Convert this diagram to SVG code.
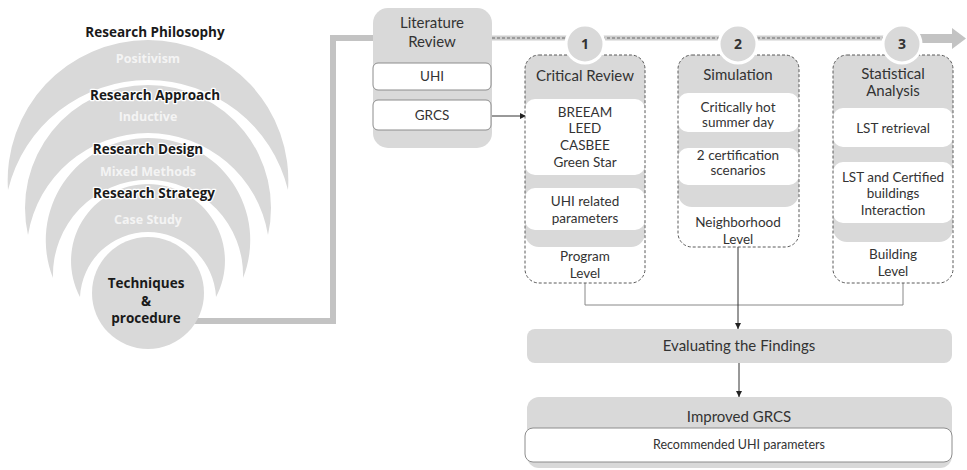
<svg xmlns="http://www.w3.org/2000/svg" width="967" height="470" viewBox="0 0 967 470">
<style>
.ring{fill:#d9d9d9}
.ttl{font-family:"Open Sans","DejaVu Sans",sans-serif;font-weight:bold;font-size:13.5px;fill:#1a1a1a;text-anchor:middle;stroke:#fff;stroke-width:2.5;paint-order:stroke;stroke-linejoin:round}
.sub{font-family:"Open Sans","DejaVu Sans",sans-serif;font-weight:bold;font-size:12.5px;fill:#f4f4f4;text-anchor:middle}
.tech{font-family:"Open Sans","DejaVu Sans",sans-serif;font-weight:bold;font-size:13.5px;fill:#1a1a1a;text-anchor:middle}
.t{font-family:Lato,"Liberation Sans",sans-serif;font-size:13.5px;fill:#333;text-anchor:middle}
.tb{font-family:Lato,"Liberation Sans",sans-serif;font-size:15px;fill:#333;text-anchor:middle}
.ts{font-family:Lato,"Liberation Sans",sans-serif;font-size:12.5px;fill:#333;text-anchor:middle}
.num{font-family:"Open Sans","DejaVu Sans",sans-serif;font-weight:bold;font-size:14px;fill:#333;text-anchor:middle}
.gray{fill:#d9d9d9}
.wbox{fill:#fff}
.wbs{fill:#fff;stroke:#8c8c8c;stroke-width:1}
.dash{fill:none;stroke:#5a5a5a;stroke-width:1;stroke-dasharray:3 2}
.circ{fill:#d9d9d9;stroke:#fff;stroke-width:3}
.thin{fill:none;stroke:#888;stroke-width:1}
.arr{fill:none;stroke:#333;stroke-width:1;marker-end:url(#ah)}
</style>
<defs>
<marker id="ah" viewBox="0 0 10 10" refX="10" refY="5" markerWidth="6" markerHeight="6" markerUnits="userSpaceOnUse" orient="auto">
<path d="M0,0 L10,5 L0,10 Z" fill="#222"/>
</marker>
</defs>

<g id="connectors">
<path d="M190,321 H333 V38 H376" fill="none" stroke="#c3c3c3" stroke-width="6"/>
<line x1="490" y1="38" x2="884" y2="38" stroke="#cfcfcf" stroke-width="5"/>
<line x1="492" y1="38" x2="884" y2="38" stroke="#6a6a6a" stroke-width="1.2" stroke-dasharray="3 2"/>
<path d="M920,34 H952 V28 L966,38.5 L952,49 V43 H920 Z" fill="#c3c3c3"/>
<path class="arr" d="M491,116 H526"/>
<path class="thin" d="M585,283 V305 H903 V283"/>
<path class="arr" d="M738,247 V329"/>
<path class="arr" d="M739,363 V397"/>
</g>

<g id="onion">
<path class="ring" d="M8,190 A140.33,140.33 0 1 1 288,190 A144.1,144.1 0 0 0 8,190 Z"/>
<path class="ring" d="M28,235 A123,123 0 1 1 268,235 A121.6,121.6 0 0 0 28,235 Z"/>
<path class="ring" d="M53,278 A102.23,102.23 0 1 1 243,278 A95.05,95.05 0 1 0 53,278 Z"/>
<path class="ring" d="M80,297 A76.96,76.96 0 1 1 216,297 A68.07,68.07 0 0 0 80,297 Z"/>
</g>
<g id="philosophy">
<text class="ttl" x="155" y="37">Research Philosophy</text>
<text class="sub" x="148" y="63">Positivism</text>
</g>
<g id="approach">
<text class="ttl" x="155" y="100">Research Approach</text>
<text class="sub" x="148" y="121">Inductive</text>
</g>
<g id="design">
<text class="ttl" x="148" y="154">Research Design</text>
<text class="sub" x="148" y="176">Mixed Methods</text>
</g>
<g id="strategy">
<text class="ttl" x="154" y="198">Research Strategy</text>
<text class="sub" x="148" y="224">Case Study</text>
</g>
<g id="techniques">
<circle class="ring" cx="148" cy="293" r="56"/>
<text class="tech" x="146" y="288">Techniques</text>
<text class="tech" x="146" y="306">&amp;</text>
<text class="tech" x="146" y="323">procedure</text>
</g>

<g id="literature">
<rect class="gray" x="373" y="8" width="119" height="140" rx="15"/>
<text class="tb" x="432" y="28">Literature</text>
<text class="tb" x="432" y="47">Review</text>
<rect class="wbs" x="373" y="63" width="118" height="27" rx="5"/>
<text class="t" x="432" y="81">UHI</text>
<rect class="wbs" x="373" y="100" width="118" height="30" rx="5"/>
<text class="t" x="432" y="120">GRCS</text>
</g>

<g id="critical">
<rect class="wbox" x="525" y="55" width="120" height="228" rx="14"/>
<rect class="gray" x="525" y="55" width="120" height="192" rx="14"/>
<rect class="wbox" x="525" y="99" width="120" height="76" rx="10"/>
<rect class="wbox" x="525" y="188" width="120" height="42" rx="10"/>
<rect class="dash" x="525" y="55" width="120" height="228" rx="14"/>
<text class="tb" x="585" y="81">Critical Review</text>
<text class="t" x="585" y="117">BREEAM</text>
<text class="t" x="585" y="133">LEED</text>
<text class="t" x="585" y="150">CASBEE</text>
<text class="t" x="585" y="167">Green Star</text>
<text class="t" x="585" y="206">UHI related</text>
<text class="t" x="585" y="223">parameters</text>
<text class="t" x="585" y="261">Program</text>
<text class="t" x="585" y="278">Level</text>
<circle class="circ" cx="585" cy="44" r="19"/>
<text class="num" x="585" y="49">1</text>
</g>

<g id="simulation">
<rect class="wbox" x="678" y="55" width="121" height="192" rx="14"/>
<rect class="gray" x="678" y="55" width="121" height="152" rx="14"/>
<rect class="wbox" x="678" y="93" width="121" height="39" rx="10"/>
<rect class="wbox" x="678" y="148" width="121" height="37" rx="10"/>
<rect class="dash" x="678" y="55" width="121" height="192" rx="14"/>
<text class="tb" x="738" y="80">Simulation</text>
<text class="t" x="738" y="112">Critically hot</text>
<text class="t" x="738" y="127">summer day</text>
<text class="t" x="738" y="160">2 certification</text>
<text class="t" x="738" y="175">scenarios</text>
<text class="t" x="738" y="227">Neighborhood</text>
<text class="t" x="738" y="244">Level</text>
<circle class="circ" cx="738" cy="44" r="19"/>
<text class="num" x="738" y="49">2</text>
</g>

<g id="statistical">
<rect class="wbox" x="833" y="55" width="120" height="228" rx="14"/>
<rect class="gray" x="833" y="55" width="120" height="187" rx="14"/>
<rect class="wbox" x="833" y="108" width="120" height="39" rx="10"/>
<rect class="wbox" x="833" y="162" width="120" height="61" rx="10"/>
<rect class="dash" x="833" y="55" width="120" height="228" rx="14"/>
<text class="tb" x="893" y="79">Statistical</text>
<text class="tb" x="893" y="96">Analysis</text>
<text class="t" x="893" y="133">LST retrieval</text>
<text class="t" x="893" y="182">LST and Certified</text>
<text class="t" x="893" y="198">buildings</text>
<text class="t" x="893" y="215">Interaction</text>
<text class="t" x="893" y="259">Building</text>
<text class="t" x="893" y="276">Level</text>
<circle class="circ" cx="902" cy="44" r="19"/>
<text class="num" x="902" y="49">3</text>
</g>

<g id="evaluating">
<rect class="gray" x="527" y="329" width="425" height="34" rx="8"/>
<text class="tb" x="739" y="351">Evaluating the Findings</text>
</g>

<g id="improved">
<rect class="gray" x="527" y="397" width="425" height="71" rx="12"/>
<text class="tb" x="739" y="422">Improved GRCS</text>
<rect class="wbs" x="525" y="428" width="427" height="34" rx="8"/>
<text class="ts" x="739" y="449">Recommended UHI parameters</text>
</g>
</svg>
